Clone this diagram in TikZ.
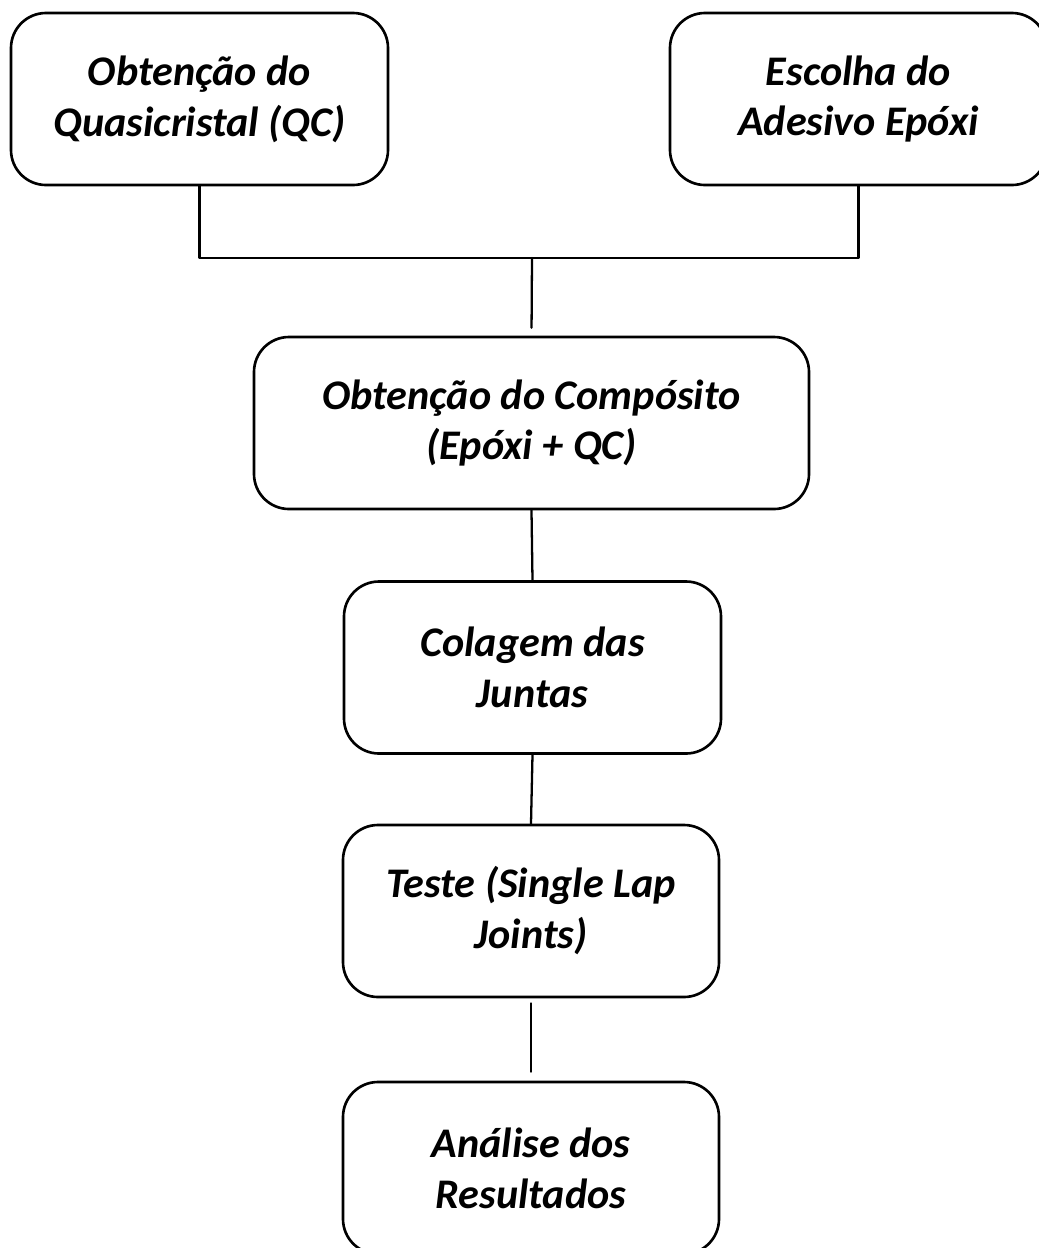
\documentclass[tikz,border=0pt]{standalone}
\usepackage{fontspec}
\setmainfont{Carlito}
\begin{document}
\begin{tikzpicture}[line cap=round,line join=round,
  etapa/.style={draw,line width=1.5pt,rounded corners=0.7cm,minimum height=3.44cm,
    align=center,font=\fontsize{24}{29}\selectfont\bfseries\itshape},
  liga/.style={line width=1.3pt}]
  \useasboundingbox (0,0) rectangle (20.78,-24.96);
  \node[etapa,minimum width=7.54cm] (qc) at (3.99,-1.98) {Obtenção do\\Quasicristal (QC)};
  \node[etapa,minimum width=7.54cm] (epoxi) at (17.17,-1.98) {Escolha do\\Adesivo Epóxi};
  \coordinate (jn) at (10.64,-5.16);
  \node[etapa,minimum width=11.10cm] (comp) at (10.63,-8.46) {Obtenção do Compósito\\(Epóxi + QC)};
  \node[etapa,minimum width=7.54cm] (cola) at (10.65,-13.35) {Colagem das\\Juntas};
  \node[etapa,minimum width=7.52cm] (teste) at (10.62,-18.22) {Teste (Single Lap\\Joints)};
  \node[etapa,minimum width=7.52cm] (anal) at (10.62,-23.36) {Análise dos\\Resultados};
  \draw[liga] (qc.south) |- (jn) -| (epoxi.south);
  \draw[liga,shorten >=0.16cm] (jn) -- (comp.north);
  \draw[liga] (comp.south) -- (cola.north);
  \draw[liga] (cola.south) -- (teste.north);
  \draw[liga,shorten <=0.1cm,shorten >=0.18cm] (teste.south) -- (anal.north);
\end{tikzpicture}
\end{document}
